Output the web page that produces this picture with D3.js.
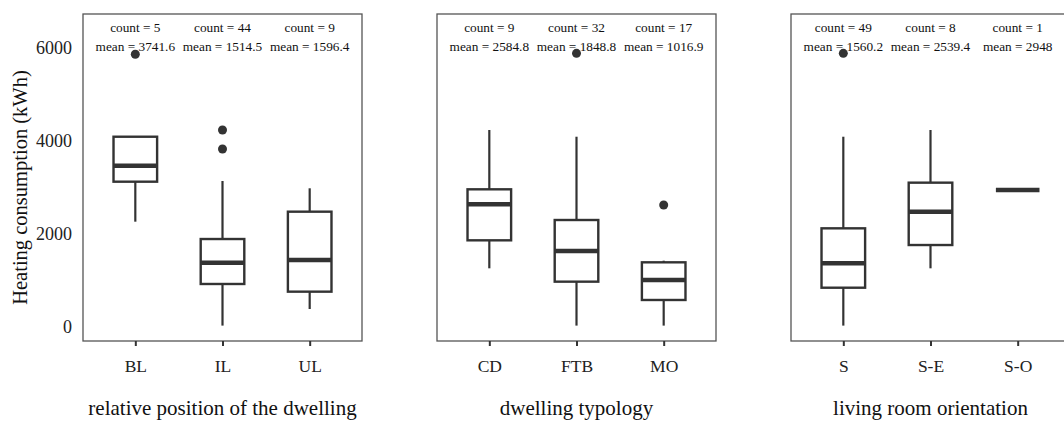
<!DOCTYPE html>
<html>
<head>
<meta charset="utf-8">
<script src="https://cdn.jsdelivr.net/npm/d3@7"></script>
<style>
  body { margin: 0; background: #fff; }
  svg { display: block; font-family: "Liberation Serif", "Times New Roman", serif; }
</style>
</head>
<body>
<svg id="chart"></svg>
<script>
const yTicks = [0, 2000, 4000, 6000];
const yTitle = 'Heating consumption (kWh)';

// boxes: [lower whisker, Q1, median, Q3, upper whisker]
const positionTitle = 'relative position of the dwelling';
const positionCats = ['BL', 'IL', 'UL'];
const positionBoxes = [
  [2265, 3125, 3469, 4092, 4092],
  [30, 925, 1383, 1892, 3140],
  [387, 760, 1441, 2480, 2983]
];
const positionOutliers = [[5865], [4237, 3828], []];
const positionCounts = [5, 44, 9];
const positionMeans = ['3741.6', '1514.5', '1596.4'];

const typologyTitle = 'dwelling typology';
const typologyCats = ['CD', 'FTB', 'MO'];
const typologyBoxes = [
  [1262, 1864, 2639, 2961, 4237],
  [30, 975, 1634, 2301, 4092],
  [30, 581, 1011, 1391, 1426]
];
const typologyOutliers = [[], [5885], [2624]];
const typologyCounts = [9, 32, 17];
const typologyMeans = ['2584.8', '1848.8', '1016.9'];

const orientationTitle = 'living room orientation';
const orientationCats = ['S', 'S-E', 'S-O'];
const orientationBoxes = [
  [30, 845, 1369, 2122, 4092],
  [1262, 1763, 2480, 3104, 4237],
  [2948, 2948, 2948, 2948, 2948]
];
const orientationOutliers = [[5885], [], []];
const orientationCounts = [49, 8, 1];
const orientationMeans = ['1560.2', '2539.4', '2948'];

const panels = [
  { title: positionTitle, cats: positionCats, boxes: positionBoxes, outliers: positionOutliers, counts: positionCounts, means: positionMeans },
  { title: typologyTitle, cats: typologyCats, boxes: typologyBoxes, outliers: typologyOutliers, counts: typologyCounts, means: typologyMeans },
  { title: orientationTitle, cats: orientationCats, boxes: orientationBoxes, outliers: orientationOutliers, counts: orientationCounts, means: orientationMeans }
];

const W = 1064, H = 421;
const panelTop = 14, panelBottom = 341, panelW = 279;
const panelLefts = [83, 437, 791];
const ink = '#333333';

const svg = d3.select('#chart').attr('width', W).attr('height', H);

const y = d3.scaleLinear().domain([0, 6000]).range([327, 48]);

// y axis (labels only, no tick marks)
const yAxis = svg.append('g')
  .attr('transform', `translate(${panelLefts[0]},0)`)
  .call(d3.axisLeft(y).tickValues(yTicks).tickSize(0).tickPadding(11).tickFormat(d3.format('d')));
yAxis.select('.domain').remove();
yAxis.selectAll('text').style('font-size', '18px').attr('fill', '#222').style('font-family', 'Liberation Serif');

svg.append('text')
  .attr('transform', `translate(22,${(panelTop + panelBottom) / 2 + 10}) rotate(-90)`)
  .attr('text-anchor', 'middle')
  .attr('dominant-baseline', 'middle')
  .style('font-size', '20.5px')
  .attr('fill', '#111')
  .text(yTitle);

panels.forEach((p, i) => {
  const left = panelLefts[i];
  const x = d3.scalePoint().domain(p.cats).range([left, left + panelW]).padding(0.6);
  const bw = x.step() * 0.5;
  const g = svg.append('g');

  // panel border
  g.append('rect')
    .attr('x', left).attr('y', panelTop)
    .attr('width', panelW).attr('height', panelBottom - panelTop)
    .attr('fill', 'none').attr('stroke', '#555').attr('stroke-width', 1.3);

  // x axis
  const xAxis = g.append('g')
    .attr('transform', `translate(0,${panelBottom})`)
    .call(d3.axisBottom(x).tickSize(5).tickPadding(14));
  xAxis.select('.domain').remove();
  xAxis.selectAll('line').attr('stroke', ink).attr('stroke-width', 2);
  xAxis.selectAll('text').style('font-size', '17.5px').attr('fill', '#222').style('font-family', 'Liberation Serif');

  g.append('text')
    .attr('x', left + panelW / 2)
    .attr('y', 415)
    .attr('text-anchor', 'middle')
    .style('font-size', '21px')
    .attr('fill', '#111')
    .text(p.title);

  // count / mean labels
  p.cats.forEach((c, j) => {
    g.append('text')
      .attr('x', x(c)).attr('y', y(6410))
      .attr('text-anchor', 'middle').attr('dominant-baseline', 'middle')
      .style('font-size', '13.3px').attr('fill', '#111')
      .text(`count = ${p.counts[j]}`);
    g.append('text')
      .attr('x', x(c)).attr('y', y(6000))
      .attr('text-anchor', 'middle').attr('dominant-baseline', 'middle')
      .style('font-size', '13.3px').attr('fill', '#111')
      .text(`mean = ${p.means[j]}`);
  });

  // boxes
  const box = g.selectAll('g.box')
    .data(p.cats.map((c, j) => ({ cat: c, s: p.boxes[j], out: p.outliers[j] })))
    .enter().append('g').attr('class', 'box');

  box.append('line')
    .attr('x1', d => x(d.cat)).attr('x2', d => x(d.cat))
    .attr('y1', d => y(d.s[4])).attr('y2', d => y(d.s[3]))
    .attr('stroke', ink).attr('stroke-width', 2.2);
  box.append('line')
    .attr('x1', d => x(d.cat)).attr('x2', d => x(d.cat))
    .attr('y1', d => y(d.s[1])).attr('y2', d => y(d.s[0]))
    .attr('stroke', ink).attr('stroke-width', 2.2);
  box.append('rect')
    .attr('x', d => x(d.cat) - bw / 2).attr('width', bw)
    .attr('y', d => y(d.s[3])).attr('height', d => y(d.s[1]) - y(d.s[3]))
    .attr('fill', '#fff').attr('stroke', ink).attr('stroke-width', 2.4);
  box.append('line')
    .attr('x1', d => x(d.cat) - bw / 2).attr('x2', d => x(d.cat) + bw / 2)
    .attr('y1', d => y(d.s[2])).attr('y2', d => y(d.s[2]))
    .attr('stroke', ink).attr('stroke-width', 4.5);

  box.selectAll('circle')
    .data(d => d.out.map(v => ({ cat: d.cat, v })))
    .enter().append('circle')
    .attr('cx', d => x(d.cat)).attr('cy', d => y(d.v))
    .attr('r', 4.5).attr('fill', ink);
});
</script>
</body>
</html>
